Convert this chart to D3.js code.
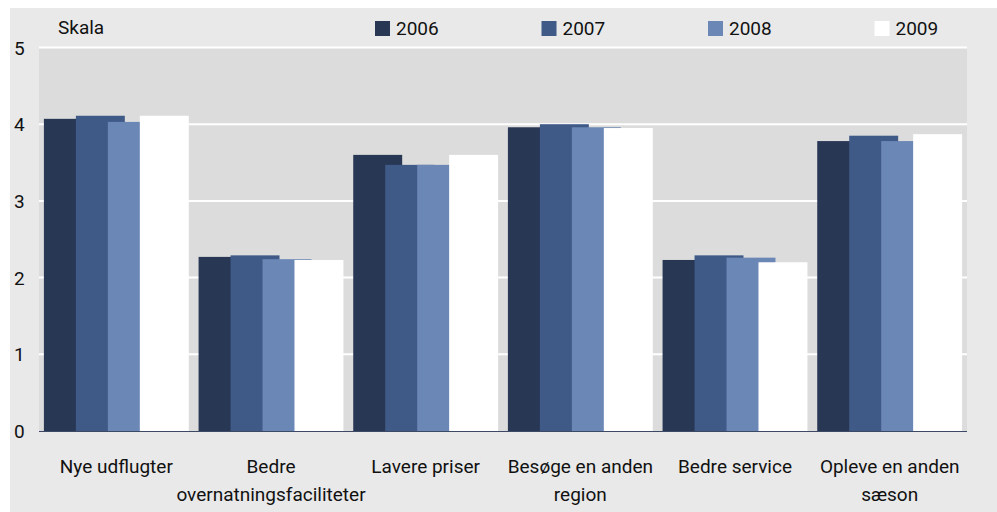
<!DOCTYPE html>
<html>
<head>
<meta charset="utf-8">
<script src="https://cdn.jsdelivr.net/npm/d3@7"></script>
<style>
  body { margin: 0; background: #fff; }
  svg text { font-family: Roboto, "Open Sans", sans-serif; fill: #111; }
</style>
</head>
<body>
<div id="chart"></div>
<script>
// data
var categories = ["Nye udflugter", "Bedre overnatningsfaciliteter", "Lavere priser",
                  "Besøge en anden region", "Bedre service", "Opleve en anden sæson"];
var catLines = [["Nye udflugter"], ["Bedre", "overnatningsfaciliteter"], ["Lavere priser"],
                ["Besøge en anden", "region"], ["Bedre service"], ["Opleve en anden", "sæson"]];
var years = ["2006", "2007", "2008", "2009"];
var v2006 = [4.07, 2.27, 3.60, 3.96, 2.23, 3.78];
var v2007 = [4.11, 2.29, 3.47, 4.00, 2.29, 3.85];
var v2008 = [4.03, 2.24, 3.47, 3.96, 2.26, 3.78];
var v2009 = [4.11, 2.23, 3.60, 3.95, 2.20, 3.87];
var yTicks = [0, 1, 2, 3, 4, 5];
var colours = ["#283754", "#3f5a87", "#6b87b5", "#ffffff"];

var series = [v2006, v2007, v2008, v2009];

var width = 997,
    height = 512,
    plot = {left: 39, right: 967, top: 47.5, bottom: 431};

var svg = d3.select("#chart").append("svg")
    .attr("width", width)
    .attr("height", height);

// outer background
svg.append("rect")
    .attr("x", 10).attr("y", 8)
    .attr("width", width - 10).attr("height", height - 8)
    .attr("fill", "#e9e9e9");

// plot area
svg.append("rect")
    .attr("x", plot.left).attr("y", plot.top)
    .attr("width", plot.right - plot.left).attr("height", plot.bottom - plot.top)
    .attr("fill", "#dcdcdc");

var x0 = d3.scaleBand()
    .domain(categories)
    .range([plot.left, plot.right])
    .paddingInner(0)
    .paddingOuter(0);

var y = d3.scaleLinear()
    .domain([0, 5])
    .range([plot.bottom, plot.top]);

// bars overlap: step 32, width 49 inside each group
var barStep = x0.bandwidth() * 0.2067,
    barWidth = x0.bandwidth() * 0.3165,
    groupPad = (x0.bandwidth() - (3 * barStep + barWidth)) / 2;

// gridlines
svg.append("g")
  .selectAll("line")
  .data(yTicks.filter(function(d) { return d > 0; }))
  .enter().append("line")
    .attr("x1", plot.left).attr("x2", plot.right)
    .attr("y1", function(d) { return y(d); })
    .attr("y2", function(d) { return y(d); })
    .attr("stroke", "#fff")
    .attr("stroke-width", 2);

// bars
var groups = svg.append("g")
  .selectAll("g")
  .data(categories)
  .enter().append("g")
    .attr("transform", function(d) { return "translate(" + (x0(d) + groupPad) + ",0)"; });

groups.selectAll("rect")
  .data(function(d, i) { return series.map(function(s, j) { return {v: s[i], j: j}; }); })
  .enter().append("rect")
    .attr("x", function(d) { return d.j * barStep; })
    .attr("y", function(d) { return y(d.v); })
    .attr("width", barWidth)
    .attr("height", function(d) { return y(0) - y(d.v); })
    .attr("fill", function(d) { return colours[d.j]; });

// zero axis line
svg.append("line")
    .attr("x1", plot.left).attr("x2", plot.right)
    .attr("y1", y(0) + 0.5).attr("y2", y(0) + 0.5)
    .attr("stroke", "#3d4a66")
    .attr("stroke-width", 1);

// y tick labels
svg.append("g")
  .selectAll("text")
  .data(yTicks)
  .enter().append("text")
    .attr("x", 14)
    .attr("y", function(d) { return y(d) + 7; })
    .style("font-size", "19px")
    .text(function(d) { return d; });

// category labels
var labels = svg.append("g")
  .selectAll("text")
  .data(categories)
  .enter().append("text")
    .attr("text-anchor", "middle")
    .style("font-size", "19px");

labels.each(function(d, i) {
  var t = d3.select(this);
  catLines[i].forEach(function(line, k) {
    t.append("tspan")
      .attr("x", x0(d) + x0.bandwidth() / 2)
      .attr("y", 473 + k * 28)
      .text(line);
  });
});

// Skala
svg.append("text")
    .attr("x", 58).attr("y", 34)
    .style("font-size", "19px")
    .text("Skala");

// legend
var legend = svg.append("g")
  .selectAll("g")
  .data(years)
  .enter().append("g")
    .attr("transform", function(d, i) { return "translate(" + (375 + i * 166.5) + ",0)"; });

legend.append("rect")
    .attr("x", 0).attr("y", 21)
    .attr("width", 15).attr("height", 15)
    .attr("fill", function(d, i) { return colours[i]; });

legend.append("text")
    .attr("x", 21).attr("y", 35)
    .style("font-size", "19px")
    .text(function(d) { return d; });
</script>
</body>
</html>
